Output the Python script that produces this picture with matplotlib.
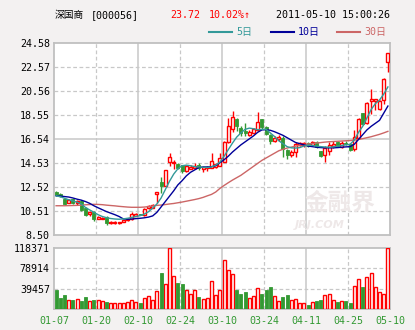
import numpy as np
import matplotlib
matplotlib.use('Agg')
import matplotlib.pyplot as plt
from matplotlib.lines import Line2D

# daily K-line data, 2011-01-07 .. 2011-05-10 (80 trading days)
opens = [12.10, 11.92, 11.50, 11.22, 11.48, 11.15, 11.35, 10.80, 10.22, 10.45,
         9.88, 9.88, 10.00, 9.50, 9.50, 9.50, 9.62, 9.72, 9.80, 10.10,
         10.25, 10.17, 10.75, 10.80, 11.95, 12.90, 12.63, 14.60, 14.50, 14.42,
         14.36, 13.82, 14.05, 14.10, 14.38, 14.05, 14.10, 14.15, 14.22, 14.30,
         14.65, 16.30, 17.40, 18.25, 17.45, 17.25, 16.85, 17.08, 17.30, 18.20,
         17.52, 16.90, 16.40, 16.50, 16.65, 15.62, 15.20, 15.43, 16.05, 16.00,
         16.22, 16.02, 16.25, 15.50, 15.20, 15.55, 15.98, 16.25, 15.85, 16.20,
         16.10, 15.70, 16.65, 18.69, 17.86, 19.70, 19.75, 19.05, 19.80, 23.00]
highs = [12.20, 12.00, 11.60, 11.50, 11.55, 11.45, 11.45, 10.85, 10.50, 10.50,
         10.08, 10.02, 10.05, 9.65, 9.65, 9.62, 9.78, 9.90, 10.42, 10.35,
         10.30, 10.72, 11.00, 11.08, 12.10, 13.35, 13.98, 15.35, 14.78, 14.50,
         14.40, 14.35, 14.40, 14.55, 14.55, 14.25, 14.25, 15.40, 14.55, 15.40,
         16.35, 18.30, 18.90, 18.30, 17.60, 17.90, 17.30, 17.45, 18.82, 18.25,
         17.60, 17.00, 16.75, 16.85, 16.75, 15.70, 15.60, 16.25, 16.30, 16.25,
         16.30, 16.35, 16.35, 15.55, 15.98, 16.25, 16.40, 16.35, 16.35, 16.35,
         16.20, 17.30, 18.30, 18.75, 19.60, 20.75, 19.90, 19.80, 21.62, 23.72]
lows = [11.78, 11.68, 11.00, 11.15, 11.08, 11.05, 10.55, 10.10, 10.05, 9.70,
        9.80, 9.80, 9.30, 9.42, 9.45, 9.45, 9.58, 9.68, 9.75, 10.05,
        10.15, 10.12, 10.68, 10.75, 11.15, 12.00, 12.58, 14.30, 14.00, 14.05,
        13.70, 13.78, 14.00, 14.00, 13.95, 13.80, 13.90, 14.10, 14.10, 14.25,
        14.60, 16.20, 17.10, 17.20, 16.80, 16.80, 16.75, 17.00, 17.20, 17.40,
        16.90, 16.15, 16.30, 16.40, 15.06, 14.84, 15.05, 15.05, 15.95, 15.90,
        15.85, 15.98, 15.80, 15.00, 14.59, 15.20, 15.75, 15.85, 15.80, 16.00,
        15.55, 15.50, 16.55, 17.70, 17.80, 18.60, 18.97, 18.95, 19.45, 22.13]
closes = [11.88, 11.78, 11.10, 11.40, 11.15, 11.35, 10.62, 10.20, 10.45, 9.80,
          10.00, 9.96, 9.48, 9.60, 9.58, 9.58, 9.72, 9.82, 10.25, 10.28,
          10.20, 10.65, 10.93, 11.00, 12.06, 12.60, 13.94, 15.05, 14.65, 14.12,
          13.82, 14.25, 14.22, 14.25, 14.10, 14.20, 14.20, 14.70, 14.45, 14.92,
          16.30, 17.65, 18.40, 17.60, 17.02, 17.05, 17.15, 17.35, 18.00, 17.55,
          16.98, 16.40, 16.65, 16.70, 15.70, 15.20, 15.48, 16.10, 16.20, 16.18,
          15.92, 16.28, 15.88, 15.12, 15.80, 16.05, 16.15, 15.95, 16.20, 16.08,
          15.65, 16.73, 18.20, 17.80, 19.53, 19.85, 19.85, 19.70, 21.56, 23.72]
volume = [37500, 21400, 27200, 16800, 17500, 18800, 15500, 23300, 14900, 17500,
          16800, 14900, 13600, 11000, 11000, 11000, 11000, 12900, 16800, 12900,
          11600, 20700, 24600, 16800, 34300, 69900, 47900, 118371, 63400, 50500,
          48500, 36200, 28500, 36200, 23300, 18800, 20700, 53700, 26500, 36200,
          95100, 75700, 67900, 37500, 29100, 33000, 21400, 25200, 40100, 29100,
          37500, 42700, 25200, 15500, 23300, 27200, 17500, 19400, 11000, 11000,
          7800, 12900, 15500, 17500, 26500, 28500, 16800, 13600, 14900, 15500,
          11600, 44000, 57600, 42700, 61500, 69200, 42000, 32400, 28500, 118200]

ma5 = [11.79, 11.70, 11.58, 11.45, 11.35, 11.25, 11.10, 10.80, 10.60, 10.40,
       10.20, 10.05, 9.95, 9.88, 9.84, 9.82, 9.85, 9.90, 9.97, 10.05,
       10.12, 10.25, 10.45, 10.75, 11.10, 11.60, 12.30, 13.00, 13.60, 14.05,
       14.30, 14.35, 14.30, 14.22, 14.20, 14.18, 14.15, 14.20, 14.35, 14.60,
       15.10, 15.65, 16.20, 16.70, 17.05, 17.35, 17.45, 17.40, 17.32, 17.35,
       17.35, 17.05, 16.75, 16.40, 16.15, 15.90, 15.80, 15.78, 15.82, 15.95,
       16.02, 16.00, 15.95, 15.90, 15.87, 15.85, 15.88, 15.95, 16.00, 16.05,
       16.10, 16.45, 17.10, 17.60, 18.30, 19.00, 19.50, 19.80, 20.30, 20.90]
ma10 = [11.79, 11.76, 11.72, 11.68, 11.60, 11.50, 11.42, 11.30, 11.15, 10.95,
        10.78, 10.62, 10.46, 10.33, 10.20, 10.05, 9.85, 9.82, 9.84, 9.87,
        9.90, 9.94, 10.00, 10.10, 10.40, 10.85, 11.30, 11.75, 12.20, 12.70,
        13.05, 13.45, 13.75, 13.95, 14.15, 14.20, 14.20, 14.22, 14.30, 14.55,
        14.80, 15.10, 15.45, 15.75, 16.05, 16.30, 16.55, 16.80, 17.10, 17.30,
        17.32, 17.27, 17.15, 17.00, 16.85, 16.65, 16.45, 16.25, 16.15, 16.05,
        15.95, 15.90, 15.85, 15.82, 15.80, 15.80, 15.80, 15.82, 15.85, 15.88,
        15.90, 16.10, 16.50, 16.90, 17.30, 17.60, 17.85, 18.10, 18.70, 19.30]
ma30 = [10.95, 10.95, 10.95, 10.96, 10.97, 10.98, 11.00, 11.03, 11.05, 11.07,
        11.06, 11.04, 11.00, 10.97, 10.94, 10.90, 10.87, 10.84, 10.82, 10.82,
        10.82, 10.84, 10.88, 10.93, 10.98, 11.01, 11.05, 11.10, 11.14, 11.20,
        11.26, 11.33, 11.40, 11.47, 11.55, 11.65, 11.78, 11.90, 12.10, 12.40,
        12.65, 12.88, 13.10, 13.30, 13.50, 13.75, 14.00, 14.25, 14.50, 14.75,
        14.95, 15.15, 15.35, 15.55, 15.68, 15.78, 15.86, 15.94, 16.02, 16.08,
        16.12, 16.16, 16.20, 16.24, 16.28, 16.31, 16.33, 16.35, 16.37, 16.39,
        16.41, 16.45, 16.50, 16.57, 16.65, 16.73, 16.83, 16.93, 17.05, 17.18]

date_labels = ['01-07', '01-20', '02-10', '02-24', '03-10',
               '03-24', '04-11', '04-25', '05-10']

RED = '#ff0000'
GREEN = '#339933'
GRID = '#c8c8c8'
BORDER = '#c0c0c0'
W, H = 415, 330

fig = plt.figure(figsize=(W / 100, H / 100), dpi=100)
fig.patch.set_facecolor('#f3f1f1')

ax = fig.add_axes([54 / W, 1 - 235 / H, 336 / W, 192 / H])
axv = fig.add_axes([54 / W, 1 - 309 / H, 336 / W, 61 / H])

o = np.array(opens)
c = np.array(closes)
hi = np.array(highs)
lo = np.array(lows)
x = np.arange(len(o))
up = c >= o
bw = 0.72

for a in (ax, axv):
    a.set_facecolor('white')
    a.set_xlim(-0.5, len(o) - 0.5)
    for s in a.spines.values():
        s.set_color(BORDER)
        s.set_linewidth(1.3)
    a.tick_params(length=0, labelsize=7.2, colors='black', pad=3)
    for k, gx in enumerate(np.arange(9.5, len(o) - 1, 10)):
        if k % 2 == 1:
            a.axvline(gx, color=GRID, lw=1.1, zorder=0)
        else:
            a.axvline(gx, color=GRID, lw=0.9, ls=(0, (3, 2)), zorder=0)

# price panel
yt = np.linspace(8.50, 24.58, 9)
ax.set_ylim(yt[0], yt[-1])
ax.set_yticks(yt)
ax.set_yticklabels(['%.2f' % v for v in yt], family='DejaVu Sans Mono')
ax.set_xticks([])
for k, v in enumerate(yt[1:-1]):
    if k == 3:
        ax.axhline(v, color=GRID, lw=1.1, zorder=0)
    else:
        ax.axhline(v, color=GRID, lw=0.9, ls=(0, (3, 2)), zorder=0)

# watermark
ax.text(0.85, 0.17, '金融界', transform=ax.transAxes, ha='center', va='center',
        fontsize=17, fontweight='bold', color='#eee8e8',
        family=['Noto Sans CJK SC', 'DejaVu Sans'], zorder=1)
ax.text(0.79, 0.05, 'JRJ.COM', transform=ax.transAxes, ha='center', va='center',
        fontsize=8, fontweight='bold', style='italic', color='#eee8e8', zorder=1)

body_lo = np.minimum(o, c)
body_h = np.maximum(np.abs(c - o), 0.04)
col = np.where(up, RED, GREEN)
ax.vlines(x, lo, hi, colors=col, lw=1.0, zorder=3)
ax.bar(x[up], body_h[up], bottom=body_lo[up], width=bw, facecolor='white',
       edgecolor=RED, linewidth=1.0, zorder=4)
ax.bar(x[~up], body_h[~up], bottom=body_lo[~up], width=bw, facecolor=GREEN,
       edgecolor=GREEN, linewidth=0.6, zorder=4)

ax.plot(x, ma30, color='#cc6666', lw=1.0, zorder=5)
ax.plot(x, ma10, color='#000099', lw=1.0, zorder=5)
ax.plot(x, ma5, color='#339999', lw=1.0, zorder=5)

# volume panel
vol = np.array(volume)
vmax = 118371
axv.set_ylim(0, vmax)
vt = [vmax / 3, 2 * vmax / 3, vmax]
axv.set_yticks(vt)
axv.set_yticklabels(['%d' % round(v) for v in vt], family='DejaVu Sans Mono')
for v in vt[:-1]:
    axv.axhline(v, color=GRID, lw=0.9, ls=(0, (3, 2)), zorder=0)
axv.bar(x[up], vol[up], width=bw, facecolor='white', edgecolor=RED,
        linewidth=1.0, zorder=3)
axv.bar(x[~up], vol[~up], width=bw, facecolor=GREEN, edgecolor=GREEN,
        linewidth=0.6, zorder=3)
axv.set_xticks(np.arange(-0.5, len(o), 10))
axv.set_xticklabels(date_labels, family='DejaVu Sans Mono', color=GREEN,
                    fontsize=7.2)
axv.tick_params(axis='x', pad=5)

# header
cjk = ['Noto Sans CJK SC', 'DejaVu Sans']
fig.text(55 / W, 1 - 15 / H, '深国商', family=cjk, fontsize=7, va='center')
fig.text(91 / W, 1 - 15 / H, '[000056]', family='DejaVu Sans Mono',
         fontsize=7.2, va='center')
fig.text(170 / W, 1 - 15 / H, '%.2f' % closes[-1], family='DejaVu Sans Mono',
         fontsize=7.2, va='center', color=RED)
fig.text(209 / W, 1 - 15 / H, '%.2f%%↑' % ((closes[-1] / closes[-2] - 1) * 100),
         family='DejaVu Sans Mono', fontsize=7.2, va='center', color=RED)
fig.text(276 / W, 1 - 15 / H, '2011-05-10 15:00:26', family='DejaVu Sans Mono',
         fontsize=7.2, va='center')

legend = [('5日', '#339999', 209), ('10日', '#000099', 271), ('30日', '#cc6666', 337)]
for name, color, lx in legend:
    fig.add_artist(Line2D([lx / W, (lx + 23) / W], [1 - 32 / H, 1 - 32 / H],
                          color=color, lw=1.5, transform=fig.transFigure))
    fig.text((lx + 27) / W, 1 - 32 / H, name, family=['DejaVu Sans Mono', 'Noto Sans CJK SC'],
             fontsize=7.2, va='center', color=color)

fig.savefig('out.png', dpi=100, facecolor=fig.get_facecolor())
